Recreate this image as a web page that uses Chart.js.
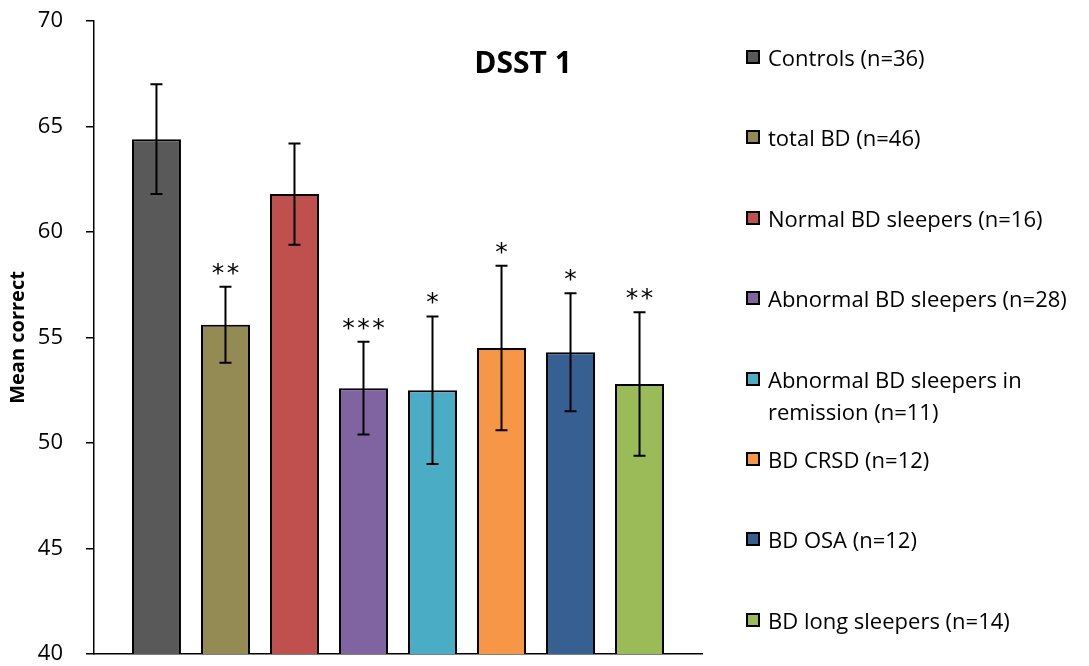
<!DOCTYPE html>
<html lang="en">
<head>
    <meta charset="UTF-8">
    <title>DSST 1</title>
    <script src="https://cdn.jsdelivr.net/npm/chart.js"></script>
    <style>
        body { margin: 0; background: #fff; }
        .wrap { position: relative; width: 1089px; height: 666px; }
        #legend {
            position: absolute;
            left: 746px;
            top: 41px;
            margin: 0;
            padding: 0;
            list-style: none;
            font-family: "Open Sans", sans-serif;
            font-size: 22px;
            color: #000;
        }
        #legend li {
            display: flex;
            align-items: flex-start;
            height: 80.4px;
        }
        #legend .box {
            width: 14px;
            height: 14px;
            box-sizing: border-box;
            border: 2px solid #000;
            margin-top: 9px;
            margin-right: 8px;
            flex: none;
        }
        #legend .txt { line-height: 32px; white-space: pre-line; }
    </style>
</head>
<body>
    <div class="wrap">
        <canvas id="dsstChart" width="1089" height="666"></canvas>
        <ul id="legend"></ul>
    </div>
    <script>
        // group means and error bars
        const groups = [
            'Controls (n=36)',
            'total BD (n=46)',
            'Normal BD sleepers (n=16)',
            'Abnormal BD sleepers (n=28)',
            'Abnormal BD sleepers in\nremission (n=11)',
            'BD CRSD (n=12)',
            'BD OSA (n=12)',
            'BD long sleepers (n=14)'
        ];
        const means = [64.4, 55.6, 61.8, 52.6, 52.5, 54.5, 54.3, 52.8];
        const errors = [2.6, 1.8, 2.4, 2.2, 3.5, 3.9, 2.8, 3.4];
        const stars = ['', '**', '', '***', '*', '*', '*', '**'];
        const colors = ['#595959', '#948A54', '#C0504D', '#8064A2', '#4BACC6', '#F79646', '#376092', '#9BBB59'];

        const errorBars = {
            id: 'errorBars',
            afterDatasetsDraw(chart) {
                const ctx = chart.ctx;
                const y = chart.scales.y;
                ctx.save();
                ctx.strokeStyle = '#000';
                ctx.lineWidth = 2;
                ctx.fillStyle = '#000';
                ctx.font = '25px "DejaVu Sans", sans-serif';
                ctx.textAlign = 'center';
                ctx.textBaseline = 'alphabetic';
                chart.data.datasets.forEach((ds, i) => {
                    const bar = chart.getDatasetMeta(i).data[0];
                    const top = y.getPixelForValue(means[i] + errors[i]);
                    const bot = y.getPixelForValue(means[i] - errors[i]);
                    ctx.beginPath();
                    ctx.moveTo(bar.x, top);
                    ctx.lineTo(bar.x, bot);
                    ctx.moveTo(bar.x - 6, top);
                    ctx.lineTo(bar.x + 6, top);
                    ctx.moveTo(bar.x - 6, bot);
                    ctx.lineTo(bar.x + 6, bot);
                    ctx.stroke();
                    const n = stars[i].length;
                    for (let k = 0; k < n; k++) {
                        ctx.fillText('*', bar.x + (k - (n - 1) / 2) * 15, top - 6);
                    }
                });
                ctx.font = 'bold 30px "Open Sans", sans-serif';
                ctx.textBaseline = 'middle';
                ctx.fillText('DSST 1', 523, 64);
                ctx.restore();
            }
        };

        new Chart(document.getElementById('dsstChart'), {
            type: 'bar',
            data: {
                labels: ['DSST 1'],
                datasets: groups.map((g, i) => ({
                    label: g,
                    data: [means[i]],
                    backgroundColor: colors[i],
                    borderColor: '#000',
                    borderWidth: 2,
                    categoryPercentage: 0.908,
                    barPercentage: 0.71
                }))
            },
            options: {
                responsive: false,
                animation: false,
                layout: { padding: { top: 21, right: 387, bottom: 12, left: 0 } },
                scales: {
                    x: {
                        grid: { display: false },
                        border: { display: true, color: '#000', width: 1.5 },
                        ticks: { display: false },
                        afterFit: axis => { axis.height = 0; }
                    },
                    y: {
                        min: 40,
                        max: 70,
                        ticks: {
                            stepSize: 5,
                            color: '#000',
                            padding: 23,
                            font: { family: '"Open Sans", sans-serif', size: 22 }
                        },
                        grid: { drawOnChartArea: false, drawTicks: true, tickLength: 8, color: '#000', lineWidth: 1.5 },
                        border: { display: true, color: '#000', width: 1.5 },
                        title: {
                            display: true,
                            text: 'Mean correct',
                            color: '#000',
                            padding: { top: 6, bottom: 0 },
                            font: { family: '"Open Sans", sans-serif', size: 20, weight: 'bold' }
                        },
                        afterFit: axis => {
                            axis.width = 94;
                            axis.paddingTop = 0;
                            axis.paddingBottom = 0;
                        }
                    }
                },
                plugins: {
                    legend: { display: false },
                    tooltip: { enabled: false }
                }
            },
            plugins: [errorBars]
        });

        const legend = document.getElementById('legend');
        groups.forEach((g, i) => {
            const li = document.createElement('li');
            const box = document.createElement('span');
            box.className = 'box';
            box.style.background = colors[i];
            const txt = document.createElement('span');
            txt.className = 'txt';
            txt.textContent = g;
            li.appendChild(box);
            li.appendChild(txt);
            legend.appendChild(li);
        });
    </script>
</body>
</html>
